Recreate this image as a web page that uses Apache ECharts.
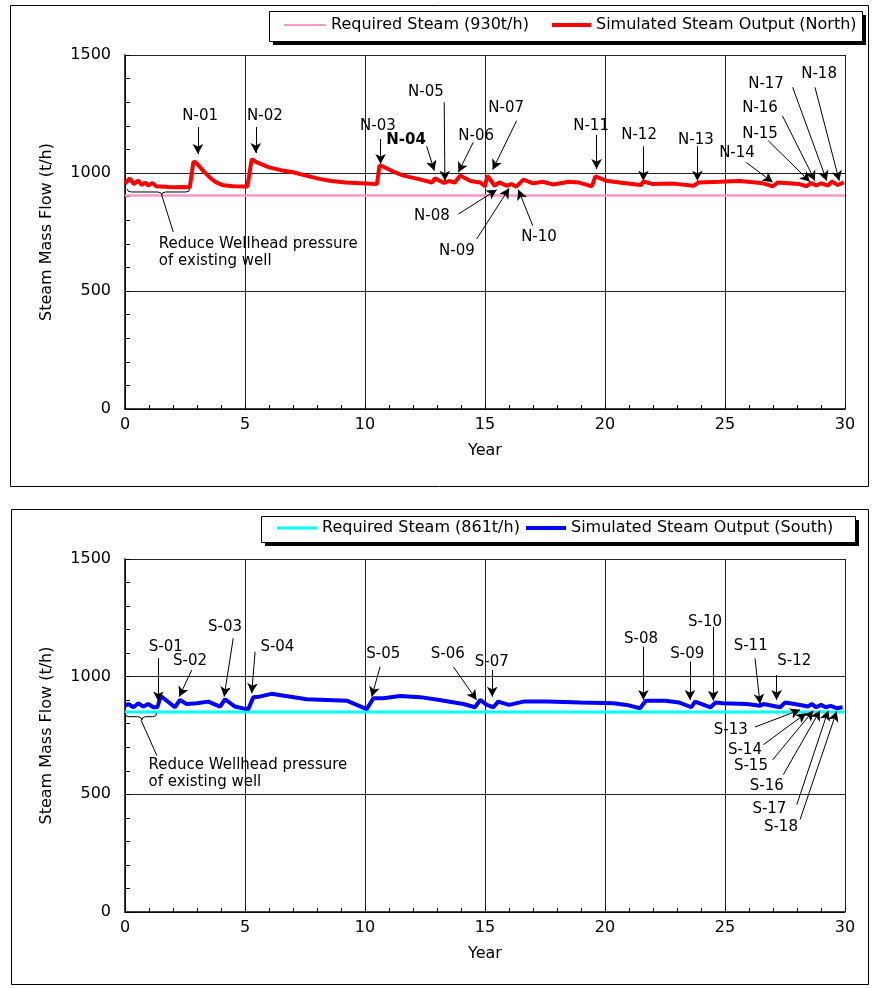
<!DOCTYPE html>
<html>
<head>
<meta charset="utf-8">
<script src="https://cdn.jsdelivr.net/npm/echarts@6/dist/echarts.min.js"></script>
<style>
html, body { margin: 0; padding: 0; background: #fff; }
#chart { width: 874px; height: 988px; }
</style>
</head>
<body>
<div id="chart"></div>
<script>
// required steam levels, as drawn
var northRequired = 905;
var southRequired = 850;

// simulated steam output [year, t/h]
var northOutput = [
    [0, 955], [0.2, 977], [0.37, 953], [0.55, 968], [0.7, 949], [0.83, 960], [0.97, 947],
    [1.14, 958], [1.3, 944], [1.5, 943], [1.8, 941], [2.1, 940], [2.4, 941], [2.7, 940],
    [2.85, 1048], [2.95, 1045], [3.3, 1005], [3.6, 975], [3.8, 960], [4.1, 948], [4.5, 944],
    [5.1, 943], [5.28, 1059], [5.5, 1045], [6.0, 1024], [6.5, 1012], [7.0, 1003], [7.5, 990],
    [8.1, 975], [8.6, 966], [9.2, 960], [9.8, 957], [10.5, 953], [10.6, 1031], [10.7, 1030],
    [11.2, 1005], [11.6, 989], [12.2, 975], [12.8, 960], [12.9, 977], [13.3, 958], [13.5, 966],
    [13.75, 960], [13.96, 989], [14.4, 966], [14.8, 960], [15.0, 944], [15.1, 989], [15.4, 946],
    [15.6, 960], [15.9, 946], [16.1, 953], [16.3, 942], [16.6, 972], [17.0, 956], [17.4, 963],
    [17.85, 951], [18.5, 963], [18.9, 960], [19.45, 943], [19.6, 986], [20.1, 966], [20.6, 960],
    [21.5, 949], [21.6, 964], [22.0, 953], [22.85, 955], [23.7, 946], [23.9, 960], [24.8, 963],
    [25.6, 966], [26.5, 958], [27.0, 944], [27.2, 960], [28.1, 953], [28.4, 944], [28.6, 958],
    [28.8, 947], [29.0, 956], [29.3, 947], [29.45, 964], [29.7, 949], [29.95, 960]
];
var southOutput = [
    [0, 876], [0.14, 884], [0.35, 870], [0.56, 887], [0.76, 873], [0.97, 884], [1.18, 870],
    [1.35, 870], [1.49, 918], [2.08, 870], [2.29, 901], [2.57, 884], [2.99, 887], [3.47, 894],
    [3.96, 873], [4.17, 904], [4.58, 873], [5.0, 863], [5.14, 863], [5.35, 913], [5.6, 915],
    [6.1, 927], [6.7, 918], [7.57, 904], [8.4, 901], [9.24, 898], [10.07, 862], [10.35, 908],
    [10.76, 908], [11.46, 918], [12.3, 913], [13.1, 901], [14.1, 884], [14.58, 870], [14.8, 901],
    [15.07, 880], [15.35, 870], [15.55, 894], [16.0, 880], [16.6, 894], [17.6, 894], [18.96, 890],
    [20.35, 887], [20.9, 880], [21.46, 866], [21.7, 898], [22.5, 898], [23.1, 890], [23.6, 870],
    [23.75, 894], [24.4, 870], [24.6, 890], [24.9, 887], [25.9, 884], [26.46, 876], [26.6, 884],
    [27.3, 870], [27.5, 890], [27.9, 884], [28.47, 873], [28.6, 884], [28.8, 870], [29.0, 880],
    [29.2, 870], [29.4, 876], [29.65, 866], [29.9, 870]
];

// well annotations: name, label point, arrow start, arrow tip (all in year / t/h)
var northWells = ['N-01', 'N-02', 'N-03', 'N-04', 'N-05', 'N-06', 'N-07', 'N-08', 'N-09',
    'N-10', 'N-11', 'N-12', 'N-13', 'N-14', 'N-15', 'N-16', 'N-17', 'N-18'];
var northTextAt = [[3.13, 1242], [5.83, 1242], [10.54, 1199], [11.71, 1140], [12.54, 1343],
    [14.63, 1157], [15.88, 1275], [12.79, 818], [13.83, 670], [17.25, 729], [19.42, 1199],
    [21.42, 1161], [23.79, 1140], [25.5, 1085], [26.46, 1165], [26.46, 1275], [26.71, 1377],
    [28.92, 1419]];
var northArrowFrom = [[3.04, 1195], [5.45, 1195], [10.65, 1144], [12.57, 1113], [13.3, 1300],
    [14.51, 1130], [16.32, 1222], [13.89, 826], [14.65, 720], [16.99, 777], [19.65, 1161],
    [21.6, 1113], [23.85, 1113], [25.88, 1045], [26.8, 1137], [27.39, 1243], [27.82, 1363],
    [28.75, 1363]];
var northArrowTo = [[3.04, 1080], [5.45, 1085], [10.65, 1038], [12.89, 1010], [13.33, 967],
    [13.89, 1003], [15.32, 1014], [15.49, 929], [16.01, 935], [16.39, 929], [19.65, 1017],
    [21.6, 967], [23.85, 967], [26.99, 961], [28.54, 963], [28.75, 967], [29.24, 967],
    [29.76, 967]];
var boldWells = ['N-04'];

var southWells = ['S-01', 'S-02', 'S-03', 'S-04', 'S-05', 'S-06', 'S-07', 'S-08', 'S-09',
    'S-10', 'S-11', 'S-12', 'S-13', 'S-14', 'S-15', 'S-16', 'S-17', 'S-18'];
var southTextAt = [[1.7, 1127], [2.71, 1064], [4.17, 1212], [6.35, 1127], [10.76, 1095],
    [13.45, 1095], [15.28, 1061], [21.5, 1160], [23.43, 1095], [24.17, 1233], [26.07, 1130],
    [27.89, 1064], [25.24, 774], [25.83, 689], [26.08, 622], [26.74, 537], [26.85, 438],
    [27.33, 360]];
var southArrowFrom = [[1.39, 1079], [2.78, 1028], [4.51, 1163], [5.42, 1106], [10.63, 1042],
    [13.68, 1042], [15.3, 1028], [21.6, 1127], [23.54, 1064], [24.51, 1212], [26.25, 1078],
    [27.15, 1007], [26.25, 786], [26.6, 711], [26.99, 647], [27.43, 584], [27.99, 456],
    [28.13, 393]];
var southArrowTo = [[1.39, 894], [2.26, 915], [4.13, 915], [5.28, 930], [10.28, 915],
    [14.65, 901], [15.3, 915], [21.6, 901], [23.54, 901], [24.51, 898], [26.46, 884],
    [27.15, 901], [28.13, 859], [28.38, 845], [28.68, 856], [28.96, 856], [29.3, 856],
    [29.65, 852]];

// "reduce wellhead pressure" note: brace [from, to, tip year, top, tip], leader, text point
var wellheadNote = 'Reduce Wellhead pressure\nof existing well';
var northBrace = [0.1, 2.7, 1.53, 932, 907];
var northLeader = [[1.53, 907], [2.01, 750]];
var northNoteAt = [1.39, 661];
var southBrace = [0, 1.32, 0.7, 845, 815];
var southLeader = [[0.67, 815], [1.33, 664]];
var southNoteAt = [0.96, 586];

var FONT = 'DejaVu Sans';

var chart = echarts.init(document.getElementById('chart'));

var makeXAxis = function (idx) {
    return {
        type: 'value', gridIndex: idx, min: 0, max: 30, interval: 5,
        name: 'Year', nameLocation: 'middle', nameGap: 34,
        nameTextStyle: { color: '#000', fontSize: 16, fontFamily: FONT },
        axisLine: { lineStyle: { color: '#000', width: 1.5 } },
        axisTick: { inside: true, length: 5, lineStyle: { color: '#000' } },
        minorTick: { show: true, splitNumber: 5, length: 4, lineStyle: { color: '#000' } },
        axisLabel: { color: '#000', fontSize: 16, fontFamily: FONT, margin: 8 },
        splitLine: { show: true, lineStyle: { color: '#222', width: 1 } }
    };
};
var makeYAxis = function (idx) {
    return {
        type: 'value', gridIndex: idx, min: 0, max: 1500, interval: 500,
        name: 'Steam Mass Flow (t/h)', nameLocation: 'middle', nameGap: 70,
        nameTextStyle: { color: '#000', fontSize: 16, fontFamily: FONT },
        axisLine: { show: true, lineStyle: { color: '#000', width: 1.5 } },
        axisTick: { show: true, inside: true, length: 5, lineStyle: { color: '#000' } },
        minorTick: { show: true, splitNumber: 5, length: 5, lineStyle: { color: '#000' } },
        axisLabel: {
            color: '#000', fontSize: 16, fontFamily: FONT, margin: 14,
            formatter: function (v) { return String(v); }
        },
        splitLine: { show: true, lineStyle: { color: '#222', width: 1 } }
    };
};

var annotate = function (idx, names, textAt, from, to) {
    return {
        type: 'scatter', xAxisIndex: idx, yAxisIndex: idx, silent: true, z: 5,
        symbolSize: 1, itemStyle: { color: 'transparent', opacity: 1 },
        data: names.map(function (n, i) {
            return {
                name: n, value: textAt[i],
                label: { fontWeight: boldWells.indexOf(n) >= 0 ? 'bold' : 'normal' }
            };
        }),
        label: {
            show: true, position: 'inside', formatter: '{b}', opacity: 1,
            color: '#000', fontSize: 15, fontFamily: FONT
        },
        markLine: {
            silent: true, animation: false, symbol: ['none', 'arrow'], symbolSize: [8, 10],
            lineStyle: { color: '#000', width: 1, type: 'solid', opacity: 1 },
            label: { show: false }, emphasis: { disabled: true },
            data: from.map(function (f, i) {
                return [{ coord: f }, { coord: to[i] }];
            })
        }
    };
};

var note = function (idx, brace, leader, textAt) {
    return [{
        type: 'custom', xAxisIndex: idx, yAxisIndex: idx, silent: true, z: 5,
        data: [brace],
        renderItem: function (params, api) {
            var a = api.coord([api.value(0), api.value(3)]);
            var b = api.coord([api.value(1), api.value(3)]);
            var t = api.coord([api.value(2), api.value(4)]);
            var ym = (a[1] + t[1]) / 2, r = 4;
            var st = { stroke: '#000', lineWidth: 1, fill: null };
            return {
                type: 'group', children: [
                    { type: 'bezierCurve', shape: { x1: a[0], y1: a[1], x2: a[0] + r, y2: ym, cpx1: a[0], cpy1: ym }, style: st },
                    { type: 'line', shape: { x1: a[0] + r, y1: ym, x2: t[0] - r, y2: ym }, style: st },
                    { type: 'bezierCurve', shape: { x1: t[0] - r, y1: ym, x2: t[0], y2: t[1], cpx1: t[0], cpy1: ym }, style: st },
                    { type: 'bezierCurve', shape: { x1: t[0], y1: t[1], x2: t[0] + r, y2: ym, cpx1: t[0], cpy1: ym }, style: st },
                    { type: 'line', shape: { x1: t[0] + r, y1: ym, x2: b[0] - r, y2: ym }, style: st },
                    { type: 'bezierCurve', shape: { x1: b[0] - r, y1: ym, x2: b[0], y2: b[1], cpx1: b[0], cpy1: ym }, style: st }
                ]
            };
        }
    }, {
        type: 'scatter', xAxisIndex: idx, yAxisIndex: idx, silent: true, z: 5,
        symbolSize: 1, itemStyle: { color: 'transparent', opacity: 1 },
        data: [textAt],
        label: {
            show: true, position: 'right', distance: 0, formatter: wellheadNote, opacity: 1,
            color: '#000', fontSize: 15, lineHeight: 17, fontFamily: FONT
        },
        markLine: {
            silent: true, animation: false, symbol: ['none', 'none'],
            lineStyle: { color: '#000', width: 1, type: 'solid', opacity: 1 },
            label: { show: false }, emphasis: { disabled: true },
            data: [[{ coord: leader[0] }, { coord: leader[1] }]]
        }
    }];
};

var legendBase = function (name, left, top, w, h) {
    return {
        data: [name], left: left, top: top, orient: 'horizontal',
        icon: 'rect', padding: 0, itemGap: 0, itemWidth: w, itemHeight: h, selectedMode: false,
        textStyle: { color: '#000', fontSize: 16, fontFamily: FONT }
    };
};

var series = [
    {
        name: 'Required Steam (930t/h)', type: 'line', xAxisIndex: 0, yAxisIndex: 0,
        symbol: 'none', silent: true, z: 2,
        lineStyle: { color: '#ff99cc', width: 2.5 }, itemStyle: { color: '#ff99cc' },
        data: [[0, northRequired], [30, northRequired]]
    },
    {
        name: 'Simulated Steam Output (North)', type: 'line', xAxisIndex: 0, yAxisIndex: 0,
        symbol: 'none', silent: true, z: 3,
        lineStyle: { color: '#ff0000', width: 4 }, itemStyle: { color: '#ff0000' },
        data: northOutput
    },
    {
        name: 'Required Steam (861t/h)', type: 'line', xAxisIndex: 1, yAxisIndex: 1,
        symbol: 'none', silent: true, z: 2,
        lineStyle: { color: '#00ffff', width: 3 }, itemStyle: { color: '#00ffff' },
        data: [[0, southRequired], [30, southRequired]]
    },
    {
        name: 'Simulated Steam Output (South)', type: 'line', xAxisIndex: 1, yAxisIndex: 1,
        symbol: 'none', silent: true, z: 3,
        lineStyle: { color: '#0000ff', width: 4 }, itemStyle: { color: '#0000ff' },
        data: southOutput
    },
    annotate(0, northWells, northTextAt, northArrowFrom, northArrowTo),
    annotate(1, southWells, southTextAt, southArrowFrom, southArrowTo)
].concat(note(0, northBrace, northLeader, northNoteAt), note(1, southBrace, southLeader, southNoteAt));

var option = {
    backgroundColor: '#fff',
    animation: false,
    graphic: [
        // outer frames
        { type: 'rect', shape: { x: 10.5, y: 5.5, width: 858, height: 481 }, style: { fill: null, stroke: '#000', lineWidth: 1 } },
        { type: 'rect', shape: { x: 11.5, y: 509.5, width: 857, height: 475 }, style: { fill: null, stroke: '#000', lineWidth: 1 } },
        // legend boxes with drop shadow
        { type: 'rect', shape: { x: 273, y: 15, width: 593, height: 30 }, style: { fill: '#000' } },
        { type: 'rect', shape: { x: 269.5, y: 11.5, width: 593, height: 30 }, style: { fill: '#fff', stroke: '#000', lineWidth: 1 } },
        { type: 'rect', shape: { x: 265, y: 520, width: 594, height: 26 }, style: { fill: '#000' } },
        { type: 'rect', shape: { x: 261.5, y: 516.5, width: 594, height: 26 }, style: { fill: '#fff', stroke: '#000', lineWidth: 1 } }
    ],
    legend: [
        legendBase('Required Steam (930t/h)', 284, 17, 42, 2),
        legendBase('Simulated Steam Output (North)', 552, 17, 39, 4),
        legendBase('Required Steam (861t/h)', 277, 520, 40, 3),
        legendBase('Simulated Steam Output (South)', 526, 520, 40, 4)
    ],
    grid: [
        { left: 125, top: 55, width: 720, height: 354, outerBoundsMode: 'none' },
        { left: 125, top: 559, width: 720, height: 353, outerBoundsMode: 'none' }
    ],
    xAxis: [makeXAxis(0), makeXAxis(1)],
    yAxis: [makeYAxis(0), makeYAxis(1)],
    series: series
};

chart.setOption(option);
</script>
</body>
</html>
